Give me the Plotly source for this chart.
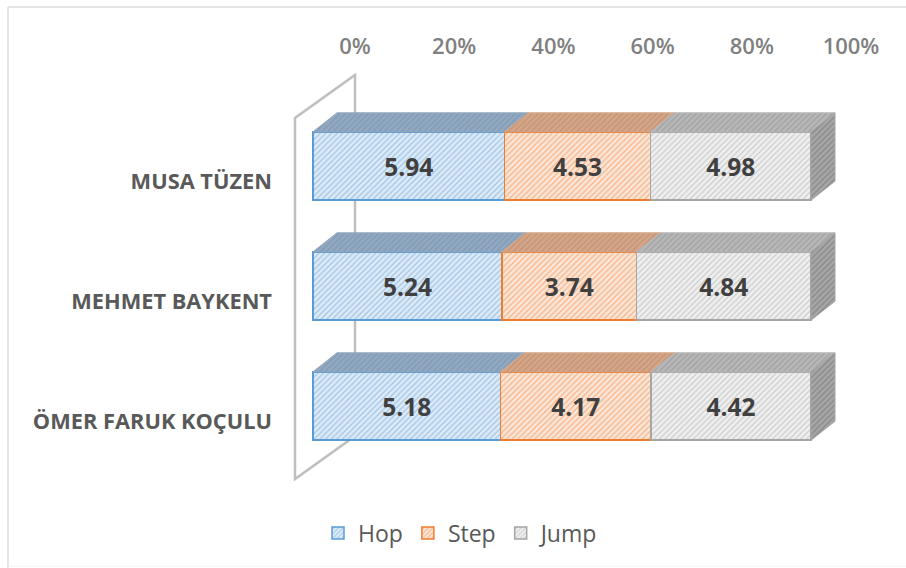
import numpy as np
import plotly.graph_objects as go

athletes = ["ÖMER FARUK KOÇULU", "MEHMET BAYKENT", "MUSA TÜZEN"]
hop = [5.18, 5.24, 5.94]
step = [4.17, 3.74, 4.53]
jump = [4.42, 4.84, 4.98]
percent_ticks = [0, 20, 40, 60, 80, 100]
percent_labels = ["0%", "20%", "40%", "60%", "80%", "100%"]

series = [
    ("Hop", hop, "#deebf7", "#5b9bd5", "#93a9bf", "#6a8cb0"),
    ("Step", step, "#fce6d8", "#ed7d31", "#d2a78c", "#c07c50"),
    ("Jump", jump, "#f0f0f0", "#a5a5a5", "#b8b8b8", "#8a8a8a"),
]

W, H = 906, 568
ML, MR, MT, MB = 280, 40, 66, 68
PW, PH = W - ML - MR, H - MT - MB
BAR_X0, BAR_X100 = 313, 811
TICK_X0, TICK_X100 = 355, 851
ROW_PX = 120
ROW0_PX = 406
LABEL_ROW0_PX = 421
BAR_W = 0.57
DX = 24 / ((BAR_X100 - BAR_X0) / 100)
DY = 19 / ROW_PX


def axis_range(x0, x100):
    s = (x100 - x0) / 100
    return [(ML - x0) / s, (ML + PW - x0) / s]


def row_range(row0):
    return [(row0 - (MT + PH)) / ROW_PX, (row0 - MT) / ROW_PX]


ys = list(range(len(athletes)))
totals = np.sum([hop, step, jump], axis=0)

fig = go.Figure()

# hidden carrier for the tick axes (percent labels on top, names at left)
fig.add_trace(go.Scatter(x=percent_ticks, y=[0] * len(percent_ticks), xaxis="x", yaxis="y",
                         mode="markers", marker=dict(opacity=0, size=1),
                         showlegend=False, hoverinfo="skip"))

for name, vals, bg, fg, top_bg, top_fg in series:
    fig.add_trace(go.Bar(
        name=name, x=vals, y=ys, orientation="h", width=BAR_W, xaxis="x2", yaxis="y2",
        text=[f"{v:.2f}" for v in vals], textposition="inside", insidetextanchor="middle",
        textangle=0, cliponaxis=False,
        textfont=dict(family="Open Sans", size=24.5, color="#404040", weight="bold"),
        marker=dict(color=bg, line=dict(color=fg, width=1.5),
                    pattern=dict(shape="/", size=4, solidity=0.3, fgcolor=fg, bgcolor=bg)),
    ))

# 3-D top and side faces, computed from the same values
left = np.zeros(len(athletes))
for name, vals, bg, fg, top_bg, top_fg in series:
    right = left + np.array(vals) / totals * 100
    for i, y in enumerate(ys):
        top = y + BAR_W / 2
        fig.add_trace(go.Scatter(
            x=[left[i], right[i], right[i] + DX, left[i] + DX, left[i]],
            y=[top, top, top + DY, top + DY, top],
            xaxis="x2", yaxis="y2", mode="lines", fill="toself", fillcolor=top_bg,
            fillpattern=dict(shape="/", size=4, solidity=0.35, fgcolor=top_fg, bgcolor=top_bg),
            line=dict(color=top_bg, width=1), showlegend=False, hoverinfo="skip", cliponaxis=False,
        ))
        if name == "Jump":
            bot = y - BAR_W / 2
            fig.add_trace(go.Scatter(
                x=[100, 100 + DX, 100 + DX, 100, 100],
                y=[top, top + DY, bot + DY, bot, top],
                xaxis="x2", yaxis="y2", mode="lines", fill="toself", fillcolor="#a0a0a0",
                fillpattern=dict(shape="/", size=4, solidity=0.4, fgcolor="#6f6f6f", bgcolor="#a8a8a8"),
                line=dict(color="#a5a5a5", width=1), showlegend=False, hoverinfo="skip",
            ))
    left = right

font_family = "Open Sans"
wall_s = (TICK_X100 - TICK_X0) / 100
wall_left = (295 - TICK_X0) / wall_s
wall_y = lambda px: (ROW0_PX - px) / ROW_PX
paper_x = lambda px: (px - ML) / PW
paper_y = lambda px: (MT + PH - px) / PH

fig.update_layout(
    width=W, height=H, autosize=False,
    margin=dict(l=ML, r=MR, t=MT, b=MB),
    paper_bgcolor="white", plot_bgcolor="white",
    barmode="stack", barnorm="percent",
    xaxis=dict(range=axis_range(TICK_X0, TICK_X100), side="top", tickvals=percent_ticks,
               ticktext=percent_labels, showgrid=False, zeroline=False, showline=False,
               ticks="", ticklabelstandoff=7,
               tickfont=dict(family=font_family, size=22, color="#808080", weight=600)),
    xaxis2=dict(range=axis_range(BAR_X0, BAR_X100), overlaying="x", visible=False,
                showgrid=False, zeroline=False),
    yaxis=dict(range=row_range(LABEL_ROW0_PX), tickvals=ys, ticktext=athletes, showgrid=False,
               zeroline=False, showline=False, ticks="", ticklabelstandoff=7,
               tickfont=dict(family=font_family, size=21.8, color="#595959", weight="bold")),
    yaxis2=dict(range=row_range(ROW0_PX), overlaying="y", visible=False,
                showgrid=False, zeroline=False),
    legend=dict(orientation="h", x=paper_x(461), xanchor="center", traceorder="normal",
                y=paper_y(533), yanchor="middle",
                font=dict(family=font_family, size=23, color="#595959"),
                itemwidth=30, tracegroupgap=0, bgcolor="rgba(0,0,0,0)"),
    shapes=[
        dict(type="path", xref="x", yref="y2", layer="below",
             path=(f"M {wall_left} {wall_y(479)} L {wall_left} {wall_y(118)} "
                   f"L 0 {wall_y(75)} L 0 {wall_y(436)} Z"),
             line=dict(color="#bfbfbf", width=2.5), fillcolor="white"),
        dict(type="line", xref="paper", yref="paper", layer="below",
             x0=paper_x(8), x1=paper_x(W), y0=paper_y(7), y1=paper_y(7),
             line=dict(color="#dcdcdc", width=1.5)),
        dict(type="line", xref="paper", yref="paper", layer="below",
             x0=paper_x(8), x1=paper_x(8), y0=paper_y(7), y1=paper_y(H),
             line=dict(color="#dcdcdc", width=1.5)),
        dict(type="line", xref="paper", yref="paper", layer="below",
             x0=paper_x(8), x1=paper_x(W), y0=paper_y(566), y1=paper_y(566),
             line=dict(color="#f2f2f2", width=1)),
    ],
)

fig.write_html("out.html", config=dict(displayModeBar=False),
               post_script="document.body.style.margin='0';document.body.style.overflow='hidden';")
